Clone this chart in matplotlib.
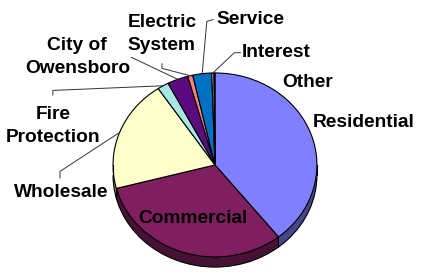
import numpy as np
import matplotlib
matplotlib.use("Agg")
import matplotlib.pyplot as plt
from matplotlib.patches import Arc
from matplotlib.colors import to_rgb

# ── data ─────────────────────────────────────────────
labels = ["Residential", "Commercial", "Wholesale", "Fire\nProtection",
          "City of\nOwensboro", "Electric\nSystem", "Service", "Interest", "Other"]
shares = [39.3, 31.6, 19.7, 1.8, 3.3, 0.8, 3.0, 0.35, 0.15]
colors = ["#8080FF", "#7F1F5F", "#FFFFCC", "#A8E6E6", "#5C0A80",
          "#FF8080", "#0070C0", "#C8C8FF", "#FFFFFF"]

# label centres (data units of the pie axes) and leader start/elbow points
label_pos = [(1.46, 0.46), (-0.22, -0.58), (-1.51, -0.30), (-1.59, 0.42),
             (-1.35, 1.17), (-0.52, 1.42), (0.35, 1.58), (0.60, 1.22), (0.91, 0.90)]
leaders = {2: [(-1.52, -0.14), (-1.52, -0.07)],
           3: [(-1.59, 0.76), (-1.59, 0.81)],
           4: [(-0.82, 1.17)],
           5: [(-0.52, 1.10), (-0.52, 1.05)],
           6: [(-0.02, 1.58), (-0.08, 1.56)],
           7: [(0.25, 1.22), (0.19, 1.22)]}

depth = 0.11
plt.rcParams["font.family"] = ["Liberation Sans", "DejaVu Sans"]

fig = plt.figure(figsize=(4.24, 2.72), dpi=100)
ax = fig.add_axes([0.2425, 0.0147, 0.529, 0.734])

dark = [tuple(c * 0.55 for c in to_rgb(col)) for col in colors]

# extruded side
n_layers = 24
for k in range(n_layers, 0, -1):
    ax.pie(shares, colors=dark, startangle=90, counterclock=False,
           center=(0, -depth * k / n_layers),
           wedgeprops=dict(linewidth=0))

# top face
wedges, _ = ax.pie(shares, colors=colors, startangle=90, counterclock=False,
                   wedgeprops=dict(edgecolor="black", linewidth=0.8))

ax.set_aspect("auto")
ax.set_xlim(-1.1, 1.1)
ax.set_ylim(-1.12, 1.05)
ax.axis("off")

# outline of the side
ax.add_patch(Arc((0, -depth), 2, 2, theta1=180, theta2=360,
                 color="black", linewidth=0.8, clip_on=False))
for x in (-1, 1):
    ax.plot([x, x], [0, -depth], color="black", linewidth=0.8, clip_on=False)
for w in wedges:
    a = np.deg2rad(w.theta1)
    if np.sin(a) < 0:
        ax.plot([np.cos(a)] * 2, [np.sin(a), np.sin(a) - depth],
                color="black", linewidth=0.8, clip_on=False)

# labels and leader lines
for i, (lab, (tx, ty)) in enumerate(zip(labels, label_pos)):
    ax.text(tx, ty, lab, ha="center", va="center", fontsize=13.8,
            fontweight="bold", linespacing=1.45, clip_on=False)
    if i in leaders:
        w = wedges[i]
        mid = np.deg2rad((w.theta1 + w.theta2) / 2)
        pts = leaders[i] + [(np.cos(mid), np.sin(mid))]
        xs, ys = zip(*pts)
        ax.plot(xs, ys, color="#333333", linewidth=0.7, clip_on=False)

fig.savefig("out.png", dpi=100)
